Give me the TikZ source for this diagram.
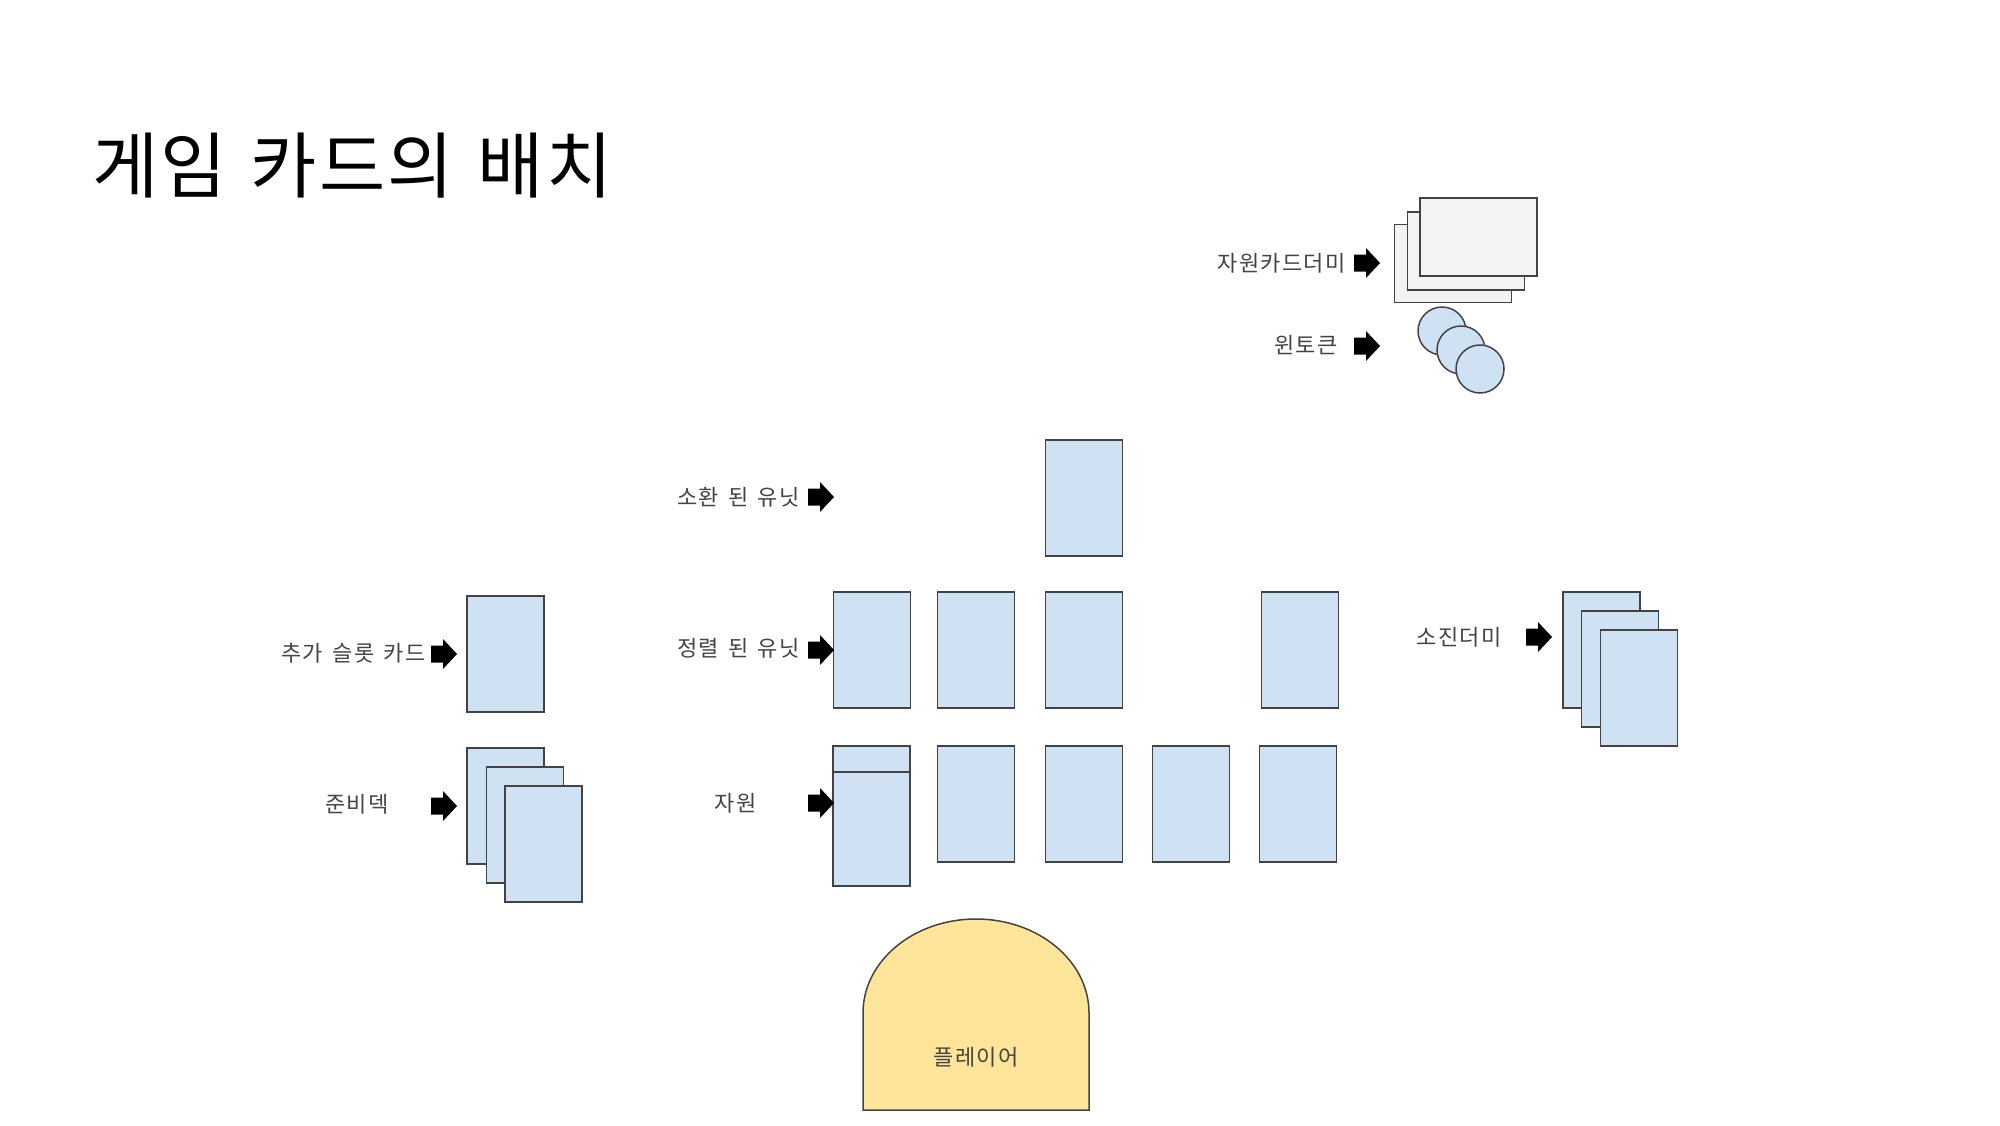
\documentclass[tikz,border=0pt]{standalone}
\usepackage{fontspec}
\newfontfamily\kr{Noto Sans CJK KR}
\newfontfamily\krl[LetterSpace=6, WordSpace=1.5]{Noto Sans CJK KR}
\newfontfamily\krt[LetterSpace=3, WordSpace=1.3]{Noto Sans CJK KR}
\definecolor{cardblue}{HTML}{CFE2F3}
\definecolor{cardgray}{HTML}{F3F3F3}
\definecolor{playeryel}{HTML}{FFE599}
\definecolor{edgec}{HTML}{434343}
\definecolor{labeltxt}{HTML}{444444}
\tikzset{
  card/.style={draw=edgec, fill=cardblue, line width=0.75pt, minimum width=38.5pt, minimum height=58pt, inner sep=0pt, outer sep=0pt},
  gcard/.style={draw=edgec, fill=cardgray, line width=0.75pt, minimum width=58.5pt, minimum height=39pt, inner sep=0pt, outer sep=0pt},
  coin/.style={circle, draw=edgec, fill=cardblue, line width=0.75pt, minimum size=24pt, inner sep=0pt},
  lbl/.style={font=\krl\fontsize{11}{13}\selectfont, text=labeltxt, inner sep=0pt, anchor=east},
  playershape/.style={draw=edgec, fill=playeryel, line width=0.75pt},
  pics/barrow/.style={code={\fill[black] (0,0) -- (-14,-15) -- (-14,-8.5) -- (-26,-8.5) -- (-26,8.5) -- (-14,8.5) -- (-14,15) -- cycle;}}
}
\begin{document}
\begin{tikzpicture}[x=0.5pt, y=-0.5pt]
\useasboundingbox (0,0) rectangle (2000,1125);
\fill[white] (0,0) rectangle (2000,1125);

% title
\node[font=\krt\fontsize{36}{40}\selectfont, anchor=west, inner sep=0pt] (title) at (92,166) {게임 카드의 배치};

% resource card pile (gray)
\node[gcard] (rdeck3) at (1453,263.5) {};
\node[gcard] (rdeck2) at (1466,251) {};
\node[gcard] (rdeck1) at (1478.5,237) {};
\node[lbl] (lrdeck) at (1346,263) {자원카드더미};
\pic (ardeck) at (1380,263) {barrow};

% win tokens
\node[coin] (coin1) at (1442,331) {};
\node[coin] (coin2) at (1461,350) {};
\node[coin] (coin3) at (1480,369) {};
\node[lbl] (lcoin) at (1338,345) {윈토큰};
\pic (acoin) at (1380,346) {barrow};

% summoned units
\node[card] (sum1) at (1084,498) {};
\node[lbl] (lsum) at (800,497) {소환 된 유닛};
\pic (asum) at (834,497) {barrow};

% aligned units
\node[card] (al1) at (872,650) {};
\node[card] (al2) at (976,650) {};
\node[card] (al3) at (1084,650) {};
\node[card] (al4) at (1300,650) {};
\node[lbl] (lal) at (800,648) {정렬 된 유닛};
\pic (aal) at (834,650) {barrow};

% resources
\node[card, minimum height=70pt] (res1) at (871.5,816) {};
\draw[edgec, line width=0.75pt] (res1.north west) ++(0,26) -- ++(77,0);
\node[card] (res2) at (976,804) {};
\node[card] (res3) at (1084,804) {};
\node[card] (res4) at (1191,804) {};
\node[card] (res5) at (1298,804) {};
\node[lbl] (lres) at (757,803) {자원};
\pic (ares) at (834,803) {barrow};

% extra slot card
\node[card] (extra) at (505.5,654) {};
\node[lbl] (lextra) at (426,653) {추가 슬롯 카드};
\pic (aextra) at (457,654) {barrow};

% prep deck
\node[card] (prep1) at (505.5,806) {};
\node[card] (prep2) at (525,825) {};
\node[card] (prep3) at (543.5,844) {};
\node[lbl] (lprep) at (389,804) {준비덱};
\pic (aprep) at (457,806) {barrow};

% discard pile
\node[card] (disc1) at (1601.5,650) {};
\node[card] (disc2) at (1620,669) {};
\node[card] (disc3) at (1639,688) {};
\node[lbl] (ldisc) at (1502,637) {소진더미};
\pic (adisc) at (1552,637) {barrow};

% player
\draw[playershape] (863,1110) -- (863,1013) arc[start angle=180, end angle=360, x radius=113, y radius=94] -- (1089,1110) -- cycle;
\node[font=\krl\fontsize{11}{13}\selectfont, text=labeltxt, inner sep=0pt] (player) at (976,1057) {플레이어};
\end{tikzpicture}
\end{document}
